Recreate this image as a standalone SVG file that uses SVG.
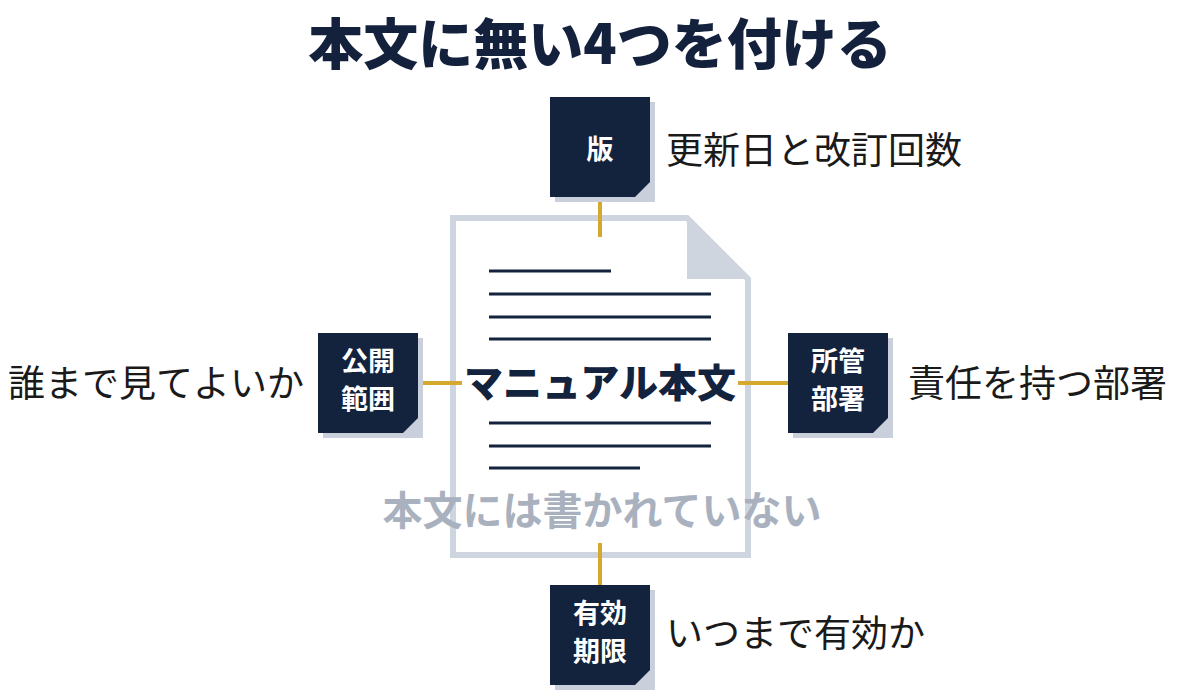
<svg xmlns="http://www.w3.org/2000/svg" width="1200" height="691" viewBox="0 0 1200 691">
<defs><style>
text{font-family:"Noto Sans CJK JP","Noto Sans",sans-serif}
.box{fill:#13223d}.sh{fill:#c9d0dc}
.bt{fill:#fff;font-weight:700;font-size:27px;text-anchor:middle}
.lb{fill:#1a1a1a;font-size:37px}
.con{stroke:#d4a92e;stroke-width:4}
.ln{stroke:#13223d;stroke-width:3}
</style></defs>
<rect width="1200" height="691" fill="#fff"/>
<text x="600" y="64" text-anchor="middle" font-size="55" font-weight="900" fill="#14213d">本文に無い4つを付ける</text>
<g id="doc">
<path d="M453,218 H687 L748,279 V555 H453 Z" fill="#fff" stroke="#cfd5df" stroke-width="6"/>
<path d="M687,218 V279 H748 Z" fill="#cfd5df"/>
<g class="ln"><line x1="489" y1="271" x2="611" y2="271"/><line x1="489" y1="294" x2="711" y2="294"/><line x1="489" y1="317" x2="711" y2="317"/><line x1="489" y1="339" x2="711" y2="339"/><line x1="489" y1="423" x2="711" y2="423"/><line x1="489" y1="446" x2="711" y2="446"/><line x1="489" y1="468" x2="640" y2="468"/></g>
<rect x="462" y="362" width="276" height="44" fill="#fff"/>
<text x="600" y="397" text-anchor="middle" font-size="39" font-weight="900" fill="#13223d">マニュアル本文</text>
<text x="602" y="525" text-anchor="middle" font-size="40" font-weight="700" fill="#a9b1bf">本文には書かれていない</text>
</g>
<g id="connectors" class="con">
<line x1="600" y1="197" x2="600" y2="237"/><line x1="418" y1="383" x2="462" y2="383"/><line x1="738" y1="383" x2="788" y2="383"/><line x1="600" y1="543" x2="600" y2="585"/>
</g>
<g id="n-top"><rect class="sh" x="555" y="102" width="100" height="100"/><path class="box" d="M550,97 H650 V182 L635,197 H550 Z"/><text class="bt" x="600" y="159">版</text><text class="lb" x="666" y="164">更新日と改訂回数</text></g>
<g id="n-left"><rect class="sh" x="323" y="338" width="100" height="100"/><path class="box" d="M318,333 H418 V418 L403,433 H318 Z"/><text class="bt" x="368" y="371">公開</text><text class="bt" x="368" y="409">範囲</text><text class="lb" x="304" y="397" text-anchor="end">誰まで見てよいか</text></g>
<g id="n-right"><rect class="sh" x="793" y="338" width="100" height="100"/><path class="box" d="M788,333 H888 V418 L873,433 H788 Z"/><text class="bt" x="838" y="371">所管</text><text class="bt" x="838" y="409">部署</text><text class="lb" x="908" y="397">責任を持つ部署</text></g>
<g id="n-bottom"><rect class="sh" x="555" y="590" width="100" height="100"/><path class="box" d="M550,585 H650 V670 L635,685 H550 Z"/><text class="bt" x="600" y="623">有効</text><text class="bt" x="600" y="661">期限</text><text class="lb" x="666" y="647">いつまで有効か</text></g>
</svg>
